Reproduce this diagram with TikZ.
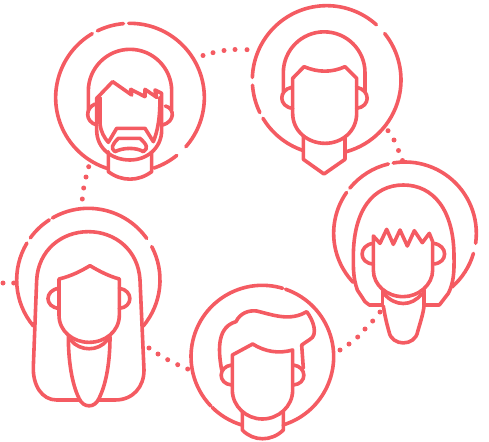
\documentclass[tikz,border=0pt]{standalone}
\usepackage{xcolor}
\definecolor{coralred}{HTML}{F45B62}
\begin{document}
\begin{tikzpicture}[
          x=1pt, y=1pt,
          outline/.style = {draw=coralred, line width=3.6pt, line cap=round, line join=round},
          linkdot/.style = {fill=coralred},
          person/.style = {scale=0.33333},
        ]
        \useasboundingbox (0,0) rectangle (489,-441);

        %% Dotted links
        \foreach \x/\y in {203/55.5, 213/52.7, 224/50.5, 235/49.5, 247/49.7,
                           388/130.7, 394/140, 398.5/150.5, 402.5/160.5,
                           380/312, 372.7/321, 365/329, 357.7/337, 349/344, 340/350,
                           149/348, 158/354, 167.7/359.7, 177.7/364.7, 187.7/369,
                           3/283, 13.7/283,
                           88.7/166.7, 86/177, 83.7/188, 82.3/199}
          \fill[linkdot] (\x,-\y) circle (2.5);

        %% Bearded man, top left
        \begin{scope}[shift={(40,-10)}, person]
          \coordinate (ringA) at (270,-263);
          \foreach \from/\to in {91/-41.3, -51/-71.3, 252.6/120.5, 116/95}
            \draw[outline] (ringA) ++(\from:223) arc (\from:\to:223);
          \draw[outline] (145,-300) -- (145,-243) arc (180:0:125) -- (395,-300);
          \draw[outline] (165,-282) .. controls (135,-295) and (135,-335) .. (170,-345);
          \draw[outline] (376,-288) .. controls (405,-295) and (405,-335) .. (368,-345);
          \draw[outline] (170,-265) -- (218,-215) -- (275,-255) -- (272,-238) -- (315,-260)
            -- (315,-238) -- (350,-262) -- (345,-240) -- (365,-250) -- (365,-360)
            .. controls (365,-415) and (320,-450) .. (270,-450)
            .. controls (215,-450) and (170,-415) .. (170,-360) -- cycle;
          \draw[outline] (180,-262) -- (180,-340) .. controls (182,-365) and (192,-382) .. (205,-397)
            -- (230,-355) -- (315,-355)
            -- (340,-395) .. controls (352,-365) and (360,-330) .. (360,-262);
          \draw[outline] (225,-425) .. controls (212,-415) and (215,-405) .. (235,-385)
            -- (300,-385) .. controls (322,-405) and (325,-415) .. (310,-425)
            .. controls (290,-412) and (250,-412) .. (225,-425) -- cycle;
          \draw[outline] (205,-425) -- (205,-485) .. controls (245,-515) and (295,-515) .. (335,-485)
            -- (335,-425);
        \end{scope}

        %% Man, top right
        \begin{scope}[shift={(240,0)}, person]
          \coordinate (ringB) at (260,-240);
          \foreach \from/\to in {48/178, 184/206, 211/251, -74.5/38.7}
            \draw[outline] (ringB) ++(\from:223) arc (\from:\to:223);
          \draw[outline] (130,-275) -- (130,-218) arc (180:0:122.5) -- (375,-275);
          \draw[outline] (155,-262) .. controls (115,-270) and (115,-320) .. (158,-325);
          \draw[outline] (350,-262) .. controls (392,-270) and (392,-320) .. (350,-325);
          \draw[outline] (158,-235) -- (158,-340) .. controls (158,-395) and (205,-430) .. (255,-430)
            .. controls (305,-430) and (350,-395) .. (350,-340) -- (350,-235) -- (315,-200)
            .. controls (275,-218) and (235,-218) .. (192,-200) -- cycle;
          \draw[outline] (190,-410) -- (190,-478) -- (252,-522) -- (315,-478) -- (315,-410);
        \end{scope}

        %% Woman with fringe, right
        \begin{scope}[shift={(320,-150)}, person]
          \coordinate (ringC) at (255,-250);
          \foreach \from/\to in {-8/99.5, 103.5/140.7, 145/223.5, -48.8/-16.3}
            \draw[outline] (ringC) ++(\from:214) arc (\from:\to:214);
          \draw[outline] (187,-465) -- (148,-465) -- (135,-455) -- (112,-420)
            .. controls (100,-385) and (100,-360) .. (100,-320)
            .. controls (100,-180) and (160,-105) .. (250,-105)
            .. controls (340,-105) and (402,-180) .. (402,-320)
            .. controls (403,-370) and (400,-400) .. (385,-430) -- (358,-465) -- (312,-465);
          \draw[outline] (160,-280) .. controls (115,-285) and (115,-340) .. (160,-342);
          \draw[outline] (340,-280) .. controls (385,-285) and (385,-340) .. (340,-342);
          \draw[outline] (160,-258) -- (180,-280) -- (200,-238) -- (220,-283) -- (240,-240)
            -- (262,-288) -- (283,-242) -- (307,-278) -- (328,-250) -- (338,-275) -- (338,-360)
            .. controls (338,-405) and (295,-440) .. (250,-440)
            .. controls (200,-440) and (160,-405) .. (160,-360) -- cycle;
          \draw[outline] (187,-420) -- (187,-465);
          \draw[outline] (312,-420) -- (312,-465);
          \draw[outline] (193,-432) .. controls (225,-470) and (275,-470) .. (305,-432);
          \draw[outline] (190,-468) .. controls (195,-500) and (200,-520) .. (207,-545)
            .. controls (215,-590) and (285,-590) .. (293,-545)
            .. controls (300,-520) and (310,-490) .. (312,-468);
        \end{scope}

        %% Woman with long hair, left
        \begin{scope}[shift={(0,-200)}, person]
          \coordinate (ringD) at (265,-240);
          \foreach \from/\to in {35.5/120, 123/144, 149/220, -40/27.8}
            \draw[outline] (ringD) ++(\from:215) arc (\from:\to:215);
          \draw[outline] (237,-600) -- (170,-600) .. controls (125,-600) and (98,-555) .. (100,-500)
            -- (110,-240) .. controls (115,-150) and (185,-95) .. (265,-95)
            .. controls (345,-95) and (415,-150) .. (420,-240) -- (432,-510)
            .. controls (432,-560) and (400,-600) .. (345,-600) -- (295,-600);
          \draw[outline] (177,-265) .. controls (133,-270) and (133,-322) .. (177,-325);
          \draw[outline] (358,-265) .. controls (400,-270) and (400,-322) .. (358,-325);
          \draw[outline] (177,-237) -- (177,-345) .. controls (177,-395) and (220,-427) .. (267,-427)
            .. controls (315,-427) and (358,-395) .. (358,-345) -- (358,-237)
            .. controls (325,-228) and (295,-212) .. (270,-197)
            .. controls (245,-212) and (215,-228) .. (177,-237) -- cycle;
          \draw[outline] (212,-420) .. controls (240,-455) and (295,-455) .. (322,-420);
          \draw[outline] (205,-410) .. controls (205,-480) and (215,-550) .. (237,-595)
            .. controls (250,-625) and (285,-625) .. (297,-595)
            .. controls (320,-550) and (330,-480) .. (330,-410);
        \end{scope}

        %% Man with quiff, bottom
        \begin{scope}[shift={(140,-280)}, person]
          \coordinate (ringE) at (367,-230);
          \foreach \from/\to in {73.4/224, 225.5/253, -73/71}
            \draw[outline] (ringE) ++(\from:214) arc (\from:\to:214);
          \draw[outline] (245,-270) .. controls (232,-200) and (235,-140) .. (288,-125)
            .. controls (300,-100) and (325,-90) .. (350,-93)
            .. controls (400,-105) and (450,-125) .. (500,-95)
            .. controls (520,-120) and (535,-165) .. (510,-178)
            -- (485,-195) -- (490,-265);
          \draw[outline] (275,-255) .. controls (233,-260) and (233,-312) .. (275,-315);
          \draw[outline] (460,-255) .. controls (502,-260) and (502,-312) .. (460,-315);
          \draw[outline] (277,-225) -- (277,-330) .. controls (277,-380) and (320,-417) .. (367,-417)
            .. controls (415,-417) and (458,-380) .. (458,-330) -- (458,-210)
            .. controls (415,-222) and (375,-215) .. (338,-192) -- cycle;
          \draw[outline] (307,-395) -- (307,-450) .. controls (340,-485) and (395,-485) .. (430,-450)
            -- (430,-395);
        \end{scope}
      \end{tikzpicture}
\end{document}
